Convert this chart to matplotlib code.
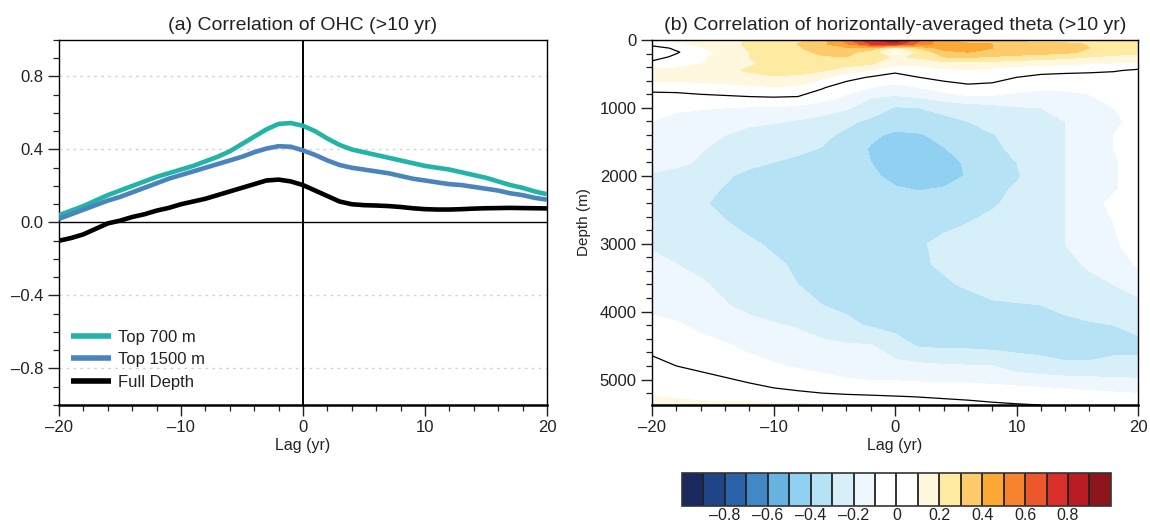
import numpy as np
import matplotlib
matplotlib.use("Agg")
import matplotlib.pyplot as plt
from matplotlib.ticker import MultipleLocator, FuncFormatter

plt.rcParams['font.family'] = ['Liberation Sans', 'DejaVu Sans']
plt.rcParams['text.color'] = '#222222'
plt.rcParams['axes.labelcolor'] = '#222222'
plt.rcParams['xtick.color'] = '#222222'
plt.rcParams['ytick.color'] = '#222222'

# ---- panel (a): lagged correlation of OHC ----
lag_years = [-20, -19, -18, -17, -16, -15, -14, -13, -12, -11, -10, -9, -8, -7, -6,
             -5, -4, -3, -2, -1, 0, 1, 2, 3, 4, 5, 6, 7, 8, 9, 10, 11, 12, 13, 14,
             15, 16, 17, 18, 19, 20]

top700 = [0.04, 0.065, 0.09, 0.12, 0.15, 0.175, 0.20, 0.225, 0.25, 0.27, 0.29,
          0.31, 0.335, 0.36, 0.39, 0.43, 0.47, 0.51, 0.54, 0.545, 0.53, 0.50,
          0.46, 0.425, 0.40, 0.385, 0.37, 0.355, 0.34, 0.325, 0.31, 0.30, 0.29,
          0.275, 0.26, 0.245, 0.225, 0.205, 0.19, 0.17, 0.155]

top1500 = [0.02, 0.045, 0.07, 0.095, 0.12, 0.14, 0.165, 0.19, 0.215, 0.24, 0.26,
           0.28, 0.30, 0.32, 0.34, 0.36, 0.385, 0.405, 0.418, 0.415, 0.395, 0.37,
           0.34, 0.315, 0.30, 0.29, 0.28, 0.27, 0.255, 0.24, 0.23, 0.22, 0.21,
           0.205, 0.195, 0.185, 0.175, 0.16, 0.15, 0.135, 0.125]

full_depth = [-0.10, -0.085, -0.065, -0.035, -0.005, 0.01, 0.03, 0.045, 0.065,
              0.08, 0.10, 0.115, 0.13, 0.15, 0.17, 0.19, 0.21, 0.23, 0.235, 0.225,
              0.205, 0.175, 0.145, 0.115, 0.10, 0.095, 0.093, 0.09, 0.085, 0.078,
              0.073, 0.071, 0.071, 0.073, 0.076, 0.078, 0.079, 0.08, 0.079, 0.078,
              0.077]

series_labels = ["Top 700 m", "Top 1500 m", "Full Depth"]
series_colors = ["#23b3a7", "#4a84bd", "#000000"]

# ---- panel (b): correlation of horizontally-averaged theta ----
grid_lags = [-20, -18, -16, -14, -12, -10, -8, -6, -4, -2, 0, 2, 4, 6, 8, 10,
             12, 14, 16, 18, 20]
grid_depths = [0, 60, 120, 180, 250, 350, 450, 550, 700, 850, 1000, 1200, 1400,
               1600, 1800, 2000, 2200, 2400, 2700, 3000, 3300, 3600, 3900, 4200,
               4500, 4800, 5050, 5250, 5375]

theta_corr = [
    [0.12, 0.12, 0.13, 0.15, 0.21, 0.24, 0.28, 0.35, 0.55, 0.80, 0.92, 0.62, 0.42, 0.27, 0.25, 0.24, 0.24, 0.23, 0.22, 0.21, 0.21],
    [0.04, 0.08, 0.12, 0.16, 0.22, 0.25, 0.30, 0.38, 0.48, 0.70, 0.75, 0.55, 0.45, 0.43, 0.40, 0.37, 0.35, 0.33, 0.29, 0.26, 0.24],
    [-0.05, 0.02, 0.09, 0.15, 0.21, 0.25, 0.29, 0.34, 0.38, 0.35, 0.15, 0.30, 0.44, 0.43, 0.40, 0.37, 0.35, 0.33, 0.30, 0.27, 0.25],
    [-0.06, -0.01, 0.06, 0.13, 0.20, 0.24, 0.27, 0.32, 0.33, 0.25, 0.06, 0.22, 0.36, 0.40, 0.37, 0.35, 0.34, 0.32, 0.28, 0.25, 0.24],
    [-0.04, 0.02, 0.08, 0.14, 0.20, 0.23, 0.26, 0.29, 0.30, 0.26, 0.18, 0.22, 0.30, 0.31, 0.29, 0.27, 0.25, 0.23, 0.20, 0.17, 0.15],
    [0.03, 0.05, 0.10, 0.15, 0.19, 0.22, 0.24, 0.25, 0.24, 0.21, 0.12, 0.12, 0.15, 0.16, 0.15, 0.13, 0.12, 0.11, 0.10, 0.09, 0.09],
    [0.12, 0.13, 0.15, 0.18, 0.21, 0.23, 0.23, 0.21, 0.14, 0.10, 0.03, 0.05, 0.08, 0.09, 0.07, 0.05, 0.04, 0.03, 0.02, 0.01, -0.02],
    [0.13, 0.13, 0.14, 0.15, 0.17, 0.19, 0.18, 0.12, 0.04, -0.01, -0.05, 0.0, 0.03, 0.04, 0.035, 0.0, -0.03, -0.04, -0.04, -0.05, -0.06],
    [0.05, 0.05, 0.06, 0.07, 0.08, 0.09, 0.08, 0.01, -0.06, -0.10, -0.13, -0.10, -0.05, -0.02, -0.03, -0.07, -0.09, -0.09, -0.08, -0.05, -0.03],
    [-0.06, -0.05, -0.03, -0.02, -0.01, -0.005, -0.01, -0.06, -0.12, -0.20, -0.22, -0.20, -0.16, -0.12, -0.12, -0.13, -0.13, -0.12, -0.11, -0.07, -0.05],
    [-0.08, -0.09, -0.095, -0.10, -0.11, -0.11, -0.13, -0.16, -0.19, -0.24, -0.31, -0.30, -0.28, -0.26, -0.24, -0.21, -0.20, -0.17, -0.14, -0.10, -0.05],
    [-0.10, -0.12, -0.13, -0.15, -0.18, -0.19, -0.21, -0.23, -0.28, -0.32, -0.35, -0.34, -0.32, -0.30, -0.27, -0.25, -0.22, -0.20, -0.15, -0.12, -0.07],
    [-0.13, -0.14, -0.17, -0.20, -0.23, -0.25, -0.27, -0.28, -0.32, -0.38, -0.42, -0.41, -0.37, -0.34, -0.305, -0.27, -0.23, -0.20, -0.15, -0.10, -0.06],
    [-0.15, -0.16, -0.195, -0.22, -0.25, -0.26, -0.28, -0.305, -0.34, -0.41, -0.46, -0.46, -0.405, -0.36, -0.32, -0.28, -0.24, -0.20, -0.15, -0.10, -0.06],
    [-0.17, -0.18, -0.21, -0.25, -0.28, -0.30, -0.32, -0.33, -0.35, -0.40, -0.46, -0.48, -0.45, -0.38, -0.34, -0.30, -0.25, -0.20, -0.15, -0.11, -0.06],
    [-0.21, -0.23, -0.26, -0.29, -0.32, -0.34, -0.35, -0.36, -0.37, -0.38, -0.43, -0.46, -0.45, -0.39, -0.34, -0.31, -0.25, -0.20, -0.15, -0.11, -0.06],
    [-0.23, -0.25, -0.28, -0.305, -0.33, -0.34, -0.35, -0.36, -0.36, -0.37, -0.39, -0.405, -0.39, -0.35, -0.32, -0.29, -0.25, -0.20, -0.14, -0.11, -0.06],
    [-0.24, -0.26, -0.29, -0.32, -0.34, -0.35, -0.35, -0.35, -0.35, -0.35, -0.36, -0.36, -0.35, -0.33, -0.31, -0.28, -0.24, -0.20, -0.13, -0.08, -0.05],
    [-0.24, -0.26, -0.28, -0.295, -0.32, -0.34, -0.35, -0.35, -0.35, -0.34, -0.33, -0.32, -0.31, -0.30, -0.28, -0.26, -0.23, -0.20, -0.15, -0.10, -0.06],
    [-0.21, -0.23, -0.25, -0.27, -0.29, -0.31, -0.33, -0.34, -0.34, -0.33, -0.32, -0.305, -0.29, -0.27, -0.26, -0.25, -0.23, -0.20, -0.15, -0.11, -0.07],
    [-0.18, -0.20, -0.22, -0.25, -0.27, -0.29, -0.31, -0.33, -0.34, -0.34, -0.33, -0.31, -0.29, -0.28, -0.27, -0.26, -0.24, -0.22, -0.19, -0.14, -0.09],
    [-0.15, -0.17, -0.19, -0.22, -0.25, -0.27, -0.30, -0.32, -0.33, -0.34, -0.34, -0.33, -0.31, -0.29, -0.27, -0.26, -0.25, -0.24, -0.22, -0.20, -0.17],
    [-0.12, -0.14, -0.17, -0.195, -0.23, -0.26, -0.28, -0.30, -0.32, -0.34, -0.35, -0.35, -0.34, -0.33, -0.31, -0.305, -0.30, -0.28, -0.26, -0.24, -0.22],
    [-0.08, -0.09, -0.12, -0.15, -0.17, -0.19, -0.21, -0.24, -0.28, -0.31, -0.33, -0.34, -0.34, -0.34, -0.34, -0.34, -0.33, -0.32, -0.31, -0.30, -0.28],
    [-0.03, -0.05, -0.07, -0.09, -0.12, -0.14, -0.16, -0.18, -0.19, -0.195, -0.26, -0.31, -0.32, -0.32, -0.33, -0.33, -0.33, -0.33, -0.33, -0.32, -0.32],
    [0.03, 0.0, -0.02, -0.04, -0.07, -0.09, -0.11, -0.13, -0.15, -0.16, -0.17, -0.18, -0.19, -0.195, -0.20, -0.25, -0.27, -0.29, -0.29, -0.28, -0.28],
    [0.08, 0.06, 0.04, 0.02, 0.0, -0.02, -0.04, -0.06, -0.08, -0.09, -0.09, -0.095, -0.10, -0.10, -0.11, -0.12, -0.13, -0.14, -0.15, -0.16, -0.17],
    [0.10, 0.09, 0.08, 0.07, 0.05, 0.035, 0.03, 0.02, 0.015, 0.01, 0.003, -0.003, -0.01, -0.015, -0.02, -0.03, -0.04, -0.05, -0.06, -0.07, -0.08],
    [0.14, 0.13, 0.12, 0.12, 0.13, 0.12, 0.115, 0.105, 0.095, 0.07, 0.05, 0.04, 0.03, 0.02, 0.01, 0.005, 0.0, -0.01, -0.02, -0.03, -0.04],
]

contour_levels = [-1.0, -0.9, -0.8, -0.7, -0.6, -0.5, -0.4, -0.3, -0.2, -0.1, 0.0,
                  0.1, 0.2, 0.3, 0.4, 0.5, 0.6, 0.7, 0.8, 0.9, 1.0]
band_colors = ["#1b2a5e", "#1f4488", "#2a62a9", "#4388c6", "#67b2e0", "#90d1f2",
               "#b6e2f5", "#d7eff8", "#eef7fd", "#ffffff", "#ffffff", "#fff7de",
               "#feeaa0", "#fdcb6b", "#fca834", "#f8832e", "#ec572c", "#da2f2b",
               "#b91c24", "#8c161b"]
cbar_ticks = [-0.8, -0.6, -0.4, -0.2, 0.0, 0.2, 0.4, 0.6, 0.8]


def minus(s):
    return s.replace('-', '\u2013')


fig = plt.figure(figsize=(11.5, 5.24), dpi=100)
ax1 = fig.add_axes([0.0513, 0.2271, 0.4243, 0.6966])
ax2 = fig.add_axes([0.567, 0.2271, 0.4226, 0.6966])
cax = fig.add_axes([0.593, 0.0344, 0.373, 0.063])

# ---------- panel (a) ----------
for yv in [-0.8, -0.4, 0.4, 0.8]:
    ax1.axhline(yv, color='#d4d4d4', lw=1.0, ls=(0, (2, 3)), zorder=0)
ax1.axhline(0, color='k', lw=1.0, zorder=1)
ax1.axvline(0, color='k', lw=1.4, zorder=1)

for vals, lab, col in zip([top700, top1500, full_depth], series_labels, series_colors):
    ax1.plot(lag_years, vals, color=col, lw=3.3, label=lab, zorder=3,
             solid_capstyle='butt')

ax1.set_xlim(-20, 20)
ax1.set_ylim(-1, 1)
ax1.set_xticks([-20, -10, 0, 10, 20])
ax1.set_yticks([-0.8, -0.4, 0.0, 0.4, 0.8])
ax1.xaxis.set_minor_locator(MultipleLocator(2))
ax1.yaxis.set_minor_locator(MultipleLocator(0.1))
ax1.xaxis.set_major_formatter(FuncFormatter(lambda v, p: minus(f"{v:.0f}")))
ax1.yaxis.set_major_formatter(FuncFormatter(lambda v, p: minus(f"{v:.1f}")))
ax1.set_title("(a) Correlation of OHC (>10 yr)", fontsize=14, pad=7)
ax1.set_xlabel("Lag (yr)", fontsize=11.5, labelpad=2)

leg = ax1.legend(loc='lower left', bbox_to_anchor=(0.0, 0.01), frameon=False,
                 fontsize=12, handlelength=2.4, handletextpad=0.45,
                 labelspacing=0.45, borderaxespad=0.3)
for h in leg.legend_handles:
    h.set_linewidth(4)

# ---------- panel (b) ----------
cf = ax2.contourf(grid_lags, grid_depths, theta_corr, levels=contour_levels,
                  colors=band_colors)
ax2.contour(grid_lags, grid_depths, theta_corr, levels=[0.0], colors='k',
            linewidths=0.9)
ax2.set_xlim(-20, 20)
ax2.set_ylim(5375, 0)
ax2.set_xticks([-20, -10, 0, 10, 20])
ax2.set_yticks([0, 1000, 2000, 3000, 4000, 5000])
ax2.xaxis.set_minor_locator(MultipleLocator(2))
ax2.yaxis.set_minor_locator(MultipleLocator(200))
ax2.xaxis.set_major_formatter(FuncFormatter(lambda v, p: minus(f"{v:.0f}")))
ax2.set_title("(b) Correlation of horizontally-averaged theta (>10 yr)",
              fontsize=14, pad=7)
ax2.set_xlabel("Lag (yr)", fontsize=11.5, labelpad=2)
ax2.set_ylabel("Depth (m)", fontsize=11, labelpad=6)

for ax in (ax1, ax2):
    ax.tick_params(which='major', direction='out', length=8, width=1.0,
                   labelsize=12, top=False, right=False, pad=3)
    ax.tick_params(which='minor', direction='out', length=4.5, width=0.9,
                   top=False, right=False)
    for side in ('left', 'top', 'right'):
        ax.spines[side].set_linewidth(1.0)
    ax.spines['bottom'].set_linewidth(1.8)

# ---------- colorbar ----------
cb = fig.colorbar(cf, cax=cax, orientation='horizontal', drawedges=True,
                  ticks=cbar_ticks)
cb.outline.set_linewidth(1.2)
cb.outline.set_edgecolor('#333333')
cb.dividers.set_color('#222222')
cb.dividers.set_linewidth(1.3)
cax.tick_params(length=0, labelsize=11.5, pad=1.5)
cax.xaxis.set_major_formatter(
    FuncFormatter(lambda v, p: "0" if abs(v) < 1e-9 else minus(f"{v:.1f}")))

fig.savefig("out.png", dpi=100)
